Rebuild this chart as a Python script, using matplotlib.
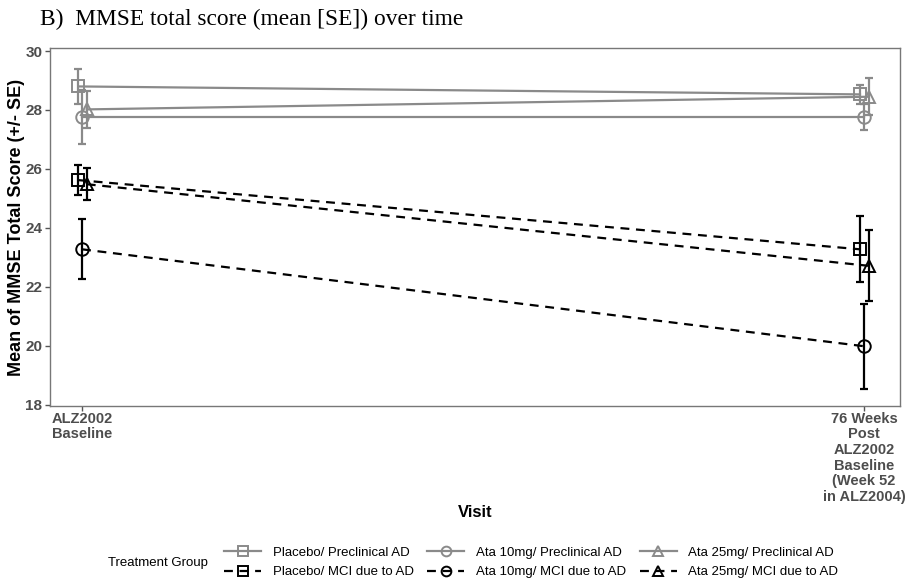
import matplotlib.pyplot as plt
import numpy as np
from matplotlib import font_manager

# visits and treatment groups
visits = ["ALZ2002\nBaseline", "76 Weeks\nPost\nALZ2002\nBaseline\n(Week 52\nin ALZ2004)"]
groups = ["Placebo/ Preclinical AD", "Ata 10mg/ Preclinical AD", "Ata 25mg/ Preclinical AD",
          "Placebo/ MCI due to AD", "Ata 10mg/ MCI due to AD", "Ata 25mg/ MCI due to AD"]

# mean and SE (baseline, week 76)
mean_placebo_pre = [28.80, 28.53]
se_placebo_pre = [0.58, 0.32]
mean_ata10_pre = [27.76, 27.76]
se_ata10_pre = [0.92, 0.45]
mean_ata25_pre = [28.02, 28.45]
se_ata25_pre = [0.62, 0.62]
mean_placebo_mci = [25.62, 23.27]
se_placebo_mci = [0.50, 1.12]
mean_ata10_mci = [23.27, 19.98]
se_ata10_mci = [1.02, 1.45]
mean_ata25_mci = [25.48, 22.71]
se_ata25_mci = [0.55, 1.20]

means = [mean_placebo_pre, mean_ata10_pre, mean_ata25_pre,
         mean_placebo_mci, mean_ata10_mci, mean_ata25_mci]
ses = [se_placebo_pre, se_ata10_pre, se_ata25_pre,
       se_placebo_mci, se_ata10_mci, se_ata25_mci]
markers = ["s", "o", "^", "s", "o", "^"]
dodge = [-0.005, 0.0, 0.006, -0.005, 0.0, 0.006]

grey = "#8a8a8a"
colors = [grey] * 3 + ["black"] * 3
styles = ["-"] * 3 + [(0, (4, 3))] * 3

names = [f.name for f in font_manager.fontManager.ttflist]
narrow = "Liberation Sans Narrow" if "Liberation Sans Narrow" in names else "Liberation Sans"

fig = plt.figure(figsize=(9.06, 5.8), dpi=100)
ax = fig.add_axes([0.0552, 0.30, 0.938, 0.617])

x = np.array([1.0, 2.0])
handles = []
for i in range(6):
    xs = x + dodge[i]
    ax.errorbar(xs, means[i], yerr=ses[i], fmt="none", ecolor=colors[i],
                elinewidth=1.6, capsize=3, capthick=1.6, zorder=2)
    ax.plot(xs, means[i], color=colors[i], linestyle=styles[i], linewidth=1.6, zorder=3)
    ax.plot(xs, means[i], linestyle="none", marker=markers[i], markersize=9,
            markerfacecolor="none", markeredgecolor=colors[i], markeredgewidth=1.4, zorder=4)
    h, = ax.plot([], [], color=colors[i], linestyle=styles[i], linewidth=1.6,
                 marker=markers[i], markersize=7, markerfacecolor="none",
                 markeredgecolor=colors[i], markeredgewidth=1.4)
    handles.append(h)

ax.set_xlim(0.959, 2.046)
ax.set_ylim(17.95, 30.1)
ax.set_yticks([18, 20, 22, 24, 26, 28, 30])
ax.set_xticks(x)
ax.set_xticklabels(visits, fontfamily="Liberation Sans", fontweight="bold",
                   fontsize=10.5, color="#4d4d4d", linespacing=1.15)
for lab in ax.get_yticklabels():
    lab.set_fontfamily("Liberation Sans")
    lab.set_fontweight("bold")
    lab.set_fontsize(11)
ax.tick_params(axis="both", colors="#555555", length=3.5, width=1)
ax.tick_params(axis="x", pad=0.5)
ax.tick_params(axis="y", pad=2)
for lab in ax.get_xticklabels() + ax.get_yticklabels():
    lab.set_color("#4d4d4d")
for s in ax.spines.values():
    s.set_color("#777777")
    s.set_linewidth(1.0)

ax.set_ylabel("Mean of MMSE Total Score (+/- SE)", fontfamily="Liberation Sans",
              fontweight="bold", fontsize=13)
ax.yaxis.label.set_va("center")
ax.yaxis.set_label_coords(-0.040, 0.5)
fig.text(0.524, 0.117, "Visit", ha="center", va="center", fontfamily="Liberation Sans",
         fontweight="bold", fontsize=12)

fig.text(0.044, 0.966, "B)  MMSE total score (mean [SE]) over time", ha="left", va="center",
         fontfamily="Liberation Serif", fontsize=16.8)

order = [0, 3, 1, 4, 2, 5]
fig.text(0.119, 0.030, "Treatment Group", ha="left", va="center", fontfamily=narrow, fontsize=9.5)
fig.legend([handles[k] for k in order], [groups[k] for k in order], ncol=3,
           loc="center left", bbox_to_anchor=(0.2375, 0.030), frameon=False,
           prop={"family": narrow, "size": 9.5}, handlelength=2.8, handletextpad=0.9,
           columnspacing=1.0, labelspacing=0.55, borderpad=0.2)

plt.savefig("out.png", dpi=100)
